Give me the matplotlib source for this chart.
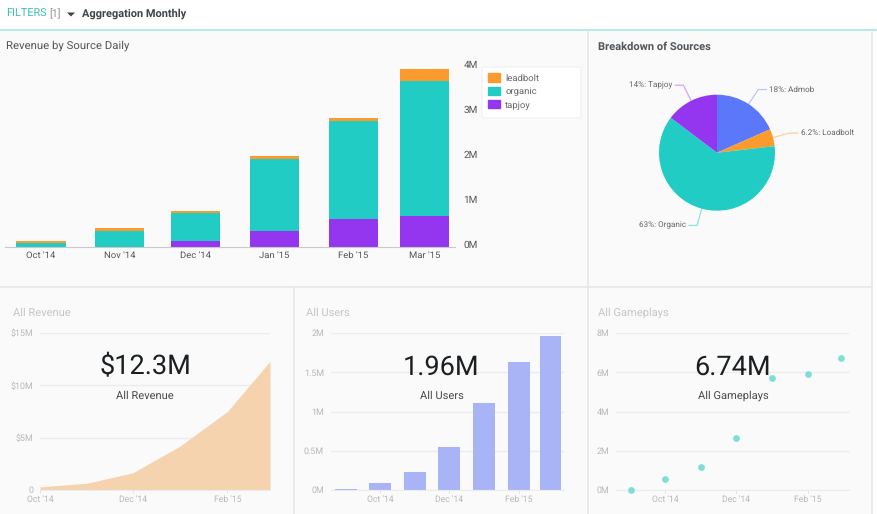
# Imports
import numpy as np
import matplotlib
matplotlib.use('Agg')
import matplotlib.pyplot as plt
from matplotlib.patches import Patch, Rectangle, FancyBboxPatch
from matplotlib.transforms import ScaledTranslation

plt.rcParams['font.family'] = ['Roboto', 'DejaVu Sans']
plt.rcParams['text.hinting'] = 'none'  # small labels come out too wide otherwise

# Stacked bars, values in millions
months = ["Oct '14", "Nov '14", "Dec '14", "Jan '15", "Feb '15", "Mar '15"]
month_days = [0, 31, 61, 92, 123, 151]
tapjoy = [0.0, 0.0, 0.126, 0.35, 0.61, 0.68]
organic = [0.08, 0.35, 0.62, 1.60, 2.18, 3.00]
leadbolt = [0.04, 0.06, 0.05, 0.067, 0.06, 0.26]
stack_ticks = [0, 1, 2, 3, 4]
stack_labels = ['0M', '1M', '2M', '3M', '4M']

# Pie
pie_names = ['Admob', 'Loadbolt', 'Organic', 'Tapjoy']
pie_shares = [18.4, 4.8, 62.1, 14.7]
pie_labels = ['18%', '6.2%', '63%', '14%']

# Small panels
revenue = [0.3, 0.65, 1.65, 4.2, 7.5, 12.3]
users = [0.017, 0.093, 0.225, 0.544, 1.105, 1.635, 1.96]
gameplays = [0.0, 0.58, 1.19, 2.63, 5.69, 5.91, 6.73]
seven_days = [0, 30, 61, 91, 122, 153, 181]
revenue_ticks = [0, 5, 10, 15]
revenue_labels = ['0', '$5M', '$10M', '$15M']
users_ticks = [0, 0.5, 1, 1.5, 2]
users_labels = ['0M', '0.5M', '1M', '1.5M', '2M']
games_ticks = [0, 2, 4, 6, 8]
games_labels = ['0M', '2M', '4M', '6M', '8M']
small_months = ["Oct '14", "Dec '14", "Feb '15"]

W, H = 878, 514
ORANGE = '#fb9a2d'
TEAL = '#20ccc4'
PURPLE = '#9436f0'
BLUE = '#5b78fb'
GRID = '#ececec'
FAINT = '#b8b8b8'

fig = plt.figure(figsize=(W / 100, H / 100), dpi=100, facecolor='white')


def px_axes(l, t, r, b):
    ax = fig.add_axes([l / W, 1 - b / H, (r - l) / W, (b - t) / H])
    ax.patch.set_alpha(0)
    for side in ax.spines:
        ax.spines[side].set_visible(False)
    return ax


def label(x, y, s, **kw):
    kw.setdefault('va', 'center')
    return fig.text(x / W, 1 - y / H, s, **kw)


# Page background and panel dividers
bg = px_axes(0, 0, W, H)
bg.set_xlim(0, W)
bg.set_ylim(H, 0)
bg.axis('off')
bg.add_patch(Rectangle((0, 31), 872, H - 31, color='#fafafa', lw=0))
bg.plot([0, W], [30, 30], color='#a3e3df', lw=1.1)
bg.plot([588, 588], [31, H], color='#e6e6e6', lw=1.1)
bg.plot([872, 872], [31, H], color='#e6e6e6', lw=1.1)
bg.plot([0, 872], [287, 287], color='#e6e6e6', lw=1.1)
bg.plot([294, 294], [287, H], color='#e6e6e6', lw=1.1)
bg.fill([67, 75, 71], [12.5, 12.5, 16.5], color='#444444', lw=0)

# Header
label(6, 14, 'FILTERS', color='#3fbfb6', fontsize=7.8)
label(49, 14, '[1]', color='#8f8f8f', fontsize=7.6)
label(82, 14, 'Aggregation Monthly', color='#3f444a', fontsize=7.9, fontweight='bold')
label(6, 46, 'Revenue by Source Daily', color='#555555', fontsize=8.2)
label(598, 46.5, 'Breakdown of Sources', color='#50555a', fontsize=8, fontweight='bold')

# Stacked bars, placed on a day axis so month gaps stay uneven
ax = px_axes(5, 60, 455, 246.5)
x = np.array(month_days)
per_day = 2.54
ax.set_xlim((5 - 41) / per_day, (455 - 41) / per_day)
ax.set_ylim(0, 186.5 / 45)
ax.bar(x, tapjoy, 19.3, color=PURPLE)
ax.bar(x, organic, 19.3, bottom=tapjoy, color=TEAL)
ax.bar(x, leadbolt, 19.3, bottom=np.add(tapjoy, organic), color=ORANGE)
ax.spines['bottom'].set_visible(True)
ax.spines['bottom'].set_color('#c9c9c9')
ax.set_xticks(x, months)
ax.tick_params(axis='x', length=0, pad=3, labelsize=6.8, labelcolor='#555555')
ax.yaxis.tick_right()
ax.set_yticks(stack_ticks, stack_labels)
ax.tick_params(axis='y', length=0, pad=6, labelsize=7.2, labelcolor='#555555')
shift = ScaledTranslation(0, 2 / 100, fig.dpi_scale_trans)
for t in ax.get_yticklabels():
    t.set_transform(t.get_transform() + shift)

# Legend, box drawn by hand so it keeps the screenshot's size
bg.add_patch(FancyBboxPatch((482, 67), 99, 51, boxstyle='round,pad=0,rounding_size=2',
                            fc='white', ec='#eef0f4', lw=0.8))
handles = [Patch(color=ORANGE), Patch(color=TEAL), Patch(color=PURPLE)]
fig.legend(handles, ['leadbolt', 'organic', 'tapjoy'], loc='upper left',
           bbox_to_anchor=(488 / W, 1 - 73.5 / H), frameon=False, fontsize=6.8,
           labelcolor='#666666', handlelength=1.28, handleheight=0.95,
           handletextpad=0.55, labelspacing=0.45, borderpad=0, borderaxespad=0)

# Pie, clockwise from the top
cx, cy, r = 717, 152.7, 58
pie_ax = px_axes(cx - r, cy - r, cx + r, cy + r)
pie_colors = [BLUE, ORANGE, TEAL, PURPLE]
pie_ax.pie(pie_shares, colors=pie_colors, startangle=90, counterclock=False, radius=1,
           normalize=True, wedgeprops={'lw': 0})
pie_ax.set_xlim(-1, 1)
pie_ax.set_ylim(-1, 1)
leader_colors = ['#b9c5fd', '#fbcf9f', '#8fe5e0', '#cfa6f7']
total = sum(pie_shares)
done = 0
for share, name, pct, col in zip(pie_shares, pie_names, pie_labels, leader_colors):
    mid = (done + share / 2) / total * 2 * np.pi
    done += share
    dx, dy = np.sin(mid), -np.cos(mid)
    side = 1 if dx > 0 else -1
    x0, y0 = cx + r * dx, cy + r * dy
    x1, y1 = cx + 1.3 * r * dx, cy + 1.3 * r * dy
    x2 = x1 + side * 8
    bg.plot([x0, x1, x2], [y0, y1, y1], color=col, lw=0.9)
    label(x2 + side * 3, y1, pct + ': ' + name, color='#666666', fontsize=5.9,
          ha='left' if side > 0 else 'right')


# Shared look of the three lower panels
def small_panel(l, r, ymax, ticks, labels, title, title_x, big, sub, cx_text, tick_pos, xlim):
    ax = px_axes(l, 333, r, 490)
    ax.set_xlim(*xlim)
    ax.set_ylim(0, ymax)
    ax.set_axisbelow(True)
    ax.grid(axis='y', color=GRID, lw=1)
    ax.set_yticks(ticks, labels)
    ax.tick_params(axis='y', length=0, pad=5, labelsize=6.4, labelcolor=FAINT)
    ax.set_xticks(tick_pos, small_months)
    ax.tick_params(axis='x', length=2, width=0.6, color='#dddddd', pad=1.5,
                   labelsize=6.2, labelcolor=FAINT)
    ax.spines['bottom'].set_visible(True)
    ax.spines['bottom'].set_color(GRID)
    label(title_x, 313, title, color='#c6c6c6', fontsize=8)
    label(cx_text, 367, big, color='#1c1f22', fontsize=19.5, ha='center', zorder=5)
    label(cx_text, 396, sub, color='#4a4a4a', fontsize=8, ha='center', zorder=5)
    return ax


# All Revenue
ax = small_panel(40, 270, 15, revenue_ticks, revenue_labels, 'All Revenue', 13, '$12.3M',
                 'All Revenue', 145, [month_days[0], month_days[2], month_days[4]], (0, 151))
ax.fill_between(month_days, revenue, color='#f5d3ae', lw=0)

# All Users
day_ticks = [seven_days[1], seven_days[3], seven_days[5]]
ax = small_panel(331, 564, 2, users_ticks, users_labels, 'All Users', 306, '1.96M',
                 'All Users', 441.5, day_ticks, ((331 - 346) / 1.13, (564 - 346) / 1.13))
ax.bar(seven_days, users, 19.2, color='#a9b4f7')

# All Gameplays
ax = small_panel(616, 849, 8, games_ticks, games_labels, 'All Gameplays', 598, '6.74M',
                 'All Gameplays', 733, day_ticks, ((616 - 630.7) / 1.16, (849 - 630.7) / 1.16))
ax.scatter(seven_days, gameplays, s=24, color='#7fdfd8', lw=0, zorder=3, clip_on=False)

fig.savefig('out.png', dpi=100)
